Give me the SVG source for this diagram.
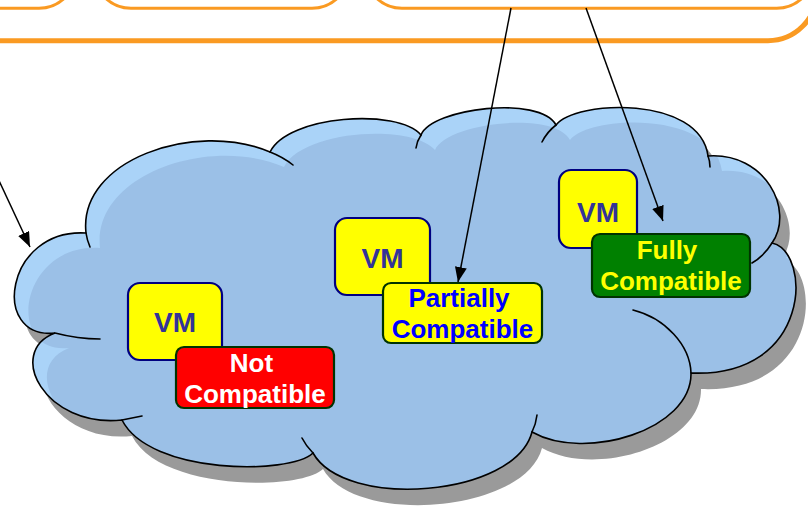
<svg xmlns="http://www.w3.org/2000/svg" xmlns:xlink="http://www.w3.org/1999/xlink" width="808" height="507" viewBox="0 0 808 507">
<style>
.orange{fill:none;stroke:#FA9A22}
.outline{fill:none;stroke:#000;stroke-width:1.6;stroke-linecap:round}
.vm{fill:#FFFF00;stroke:#000080;stroke-width:2.2}
.vmt{font-family:"Liberation Sans",Arial,sans-serif;font-weight:bold;font-size:28px;fill:#333399;text-anchor:middle}
.tag{stroke:#003300;stroke-width:2.2}
.tt{font-family:"Liberation Sans",Arial,sans-serif;font-weight:bold;font-size:26px;text-anchor:middle}
.conn{fill:none;stroke:#000;stroke-width:1.5}
</style>
<defs>
<path id="cloud" d="M 55 333 C -10 340 5 228 86 233 C 78 160 195 120 270 152 C 288 115 398 108 421 135 C 432 108 540 95 556 125 C 575 100 700 95 708 156 C 765 152 795 210 772 243 C 812 252 812 378 691 373 C 692 430 585 462 532 432 C 515 497 345 510 313 453 C 290 475 150 475 122 420 C 45 428 5 352 55 333 Z"/>
<clipPath id="cloudClip"><use xlink:href="#cloud"/></clipPath>
<marker id="arrow" markerUnits="userSpaceOnUse" markerWidth="16" markerHeight="12" refX="15" refY="6" orient="auto">
<path d="M0,0 L15,6 L0,12 Z" fill="#000"/>
</marker>
</defs>
<rect width="808" height="507" fill="#FFFFFF"/>
<g id="frames">
<rect class="orange" x="-100" y="-80" width="176" height="88.3" rx="37" stroke-width="3"/>
<rect class="orange" x="94" y="-80" width="255" height="88.3" rx="37" stroke-width="3"/>
<rect class="orange" x="365" y="-80" width="448.7" height="88.3" rx="37" stroke-width="3"/>
<rect class="orange" x="-100" y="-100" width="917" height="140.7" rx="49" stroke-width="5"/>
</g>
<g id="cloud-shape">
<use xlink:href="#cloud" transform="translate(10,16)" fill="#9A9A9A"/>
<use xlink:href="#cloud" fill="#AAD3F8"/>
<g clip-path="url(#cloudClip)">
<use xlink:href="#cloud" transform="translate(14,15)" fill="#9BC0E7"/>
</g>
<use xlink:href="#cloud" class="outline"/>
<path class="outline" d="M 55 333 Q 78 339 100 339 M 86 233 Q 87 240 90 247 M 270 152 Q 283 157 293 165 M 421 135 Q 417 141 416 148 M 556 125 Q 547 132 542 142 M 708 156 Q 710 161 710 167 M 772 243 Q 764 256 752 263 M 691 373 C 690 345 665 318 633 310 M 532 432 Q 536 424 537 415 M 313 453 Q 306 446 302 438 M 122 420 Q 132 418 142 416"/>
</g>
<g id="vm1">
<rect class="vm" x="128" y="283" width="94" height="77" rx="12"/>
<text class="vmt" x="175" y="332">VM</text>
</g>
<g id="not-compatible">
<rect class="tag" x="176" y="347" width="158" height="61" rx="8" fill="#FF0000"/>
<text class="tt" fill="#FFFFFF" x="251.5" y="372">Not</text>
<text class="tt" fill="#FFFFFF" x="255" y="403">Compatible</text>
</g>
<g id="vm2">
<rect class="vm" x="335" y="218" width="95" height="77" rx="12"/>
<text class="vmt" x="382.5" y="268">VM</text>
</g>
<g id="partially-compatible">
<rect class="tag" x="383" y="283" width="159" height="60" rx="8" fill="#FFFF00"/>
<text class="tt" fill="#0000FF" x="459" y="307">Partially</text>
<text class="tt" fill="#0000FF" x="462.5" y="338">Compatible</text>
</g>
<g id="vm3">
<rect class="vm" x="559" y="170" width="78" height="78" rx="12"/>
<text class="vmt" x="598" y="222">VM</text>
</g>
<g id="fully-compatible">
<rect class="tag" x="592" y="234" width="158" height="63" rx="8" fill="#008000"/>
<text class="tt" fill="#FFFF00" x="667" y="258.5">Fully</text>
<text class="tt" fill="#FFFF00" x="671" y="290">Compatible</text>
</g>
<g id="connectors">
<line class="conn" x1="-6" y1="170" x2="30" y2="247" marker-end="url(#arrow)"/>
<line class="conn" x1="511" y1="8" x2="458" y2="282" marker-end="url(#arrow)"/>
<line class="conn" x1="586" y1="8" x2="663" y2="221" marker-end="url(#arrow)"/>
</g>
</svg>
